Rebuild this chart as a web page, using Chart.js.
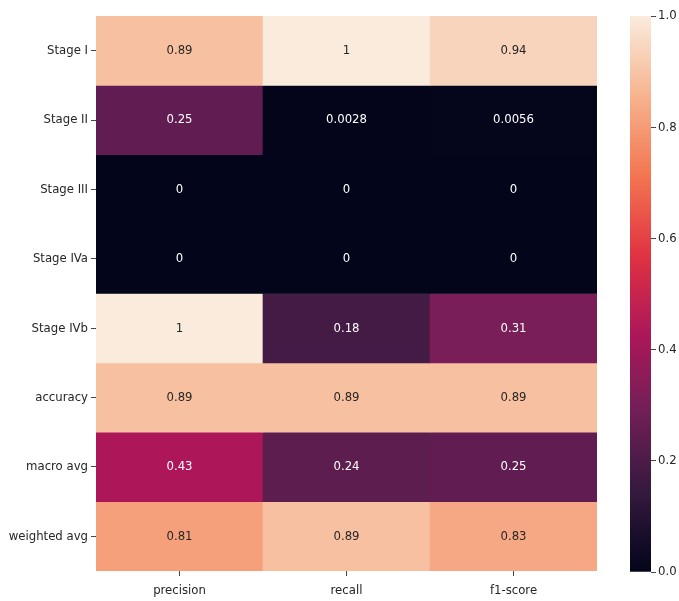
<!DOCTYPE html>
<html>
<head>
<meta charset="utf-8">
<script src="https://cdn.jsdelivr.net/npm/chart.js@4/dist/chart.umd.min.js"></script>
<style>
  html, body { margin: 0; padding: 0; background: #ffffff; }
  #wrap { position: relative; width: 679px; height: 601px; overflow: hidden; }
  #heat { position: absolute; left: 0; top: 0; }
  #cbar { position: absolute; left: 600px; top: 0; }
</style>
</head>
<body>
<div id="wrap">
  <canvas id="heat" width="679" height="601"></canvas>
  <canvas id="cbar" width="79" height="601"></canvas>
</div>
<script>
// Classification report metrics per class
const columns = ['precision', 'recall', 'f1-score'];
const rows = ['Stage I', 'Stage II', 'Stage III', 'Stage IVa', 'Stage IVb', 'accuracy', 'macro avg', 'weighted avg'];
const precision = [0.89, 0.25, 0, 0, 1, 0.89, 0.43, 0.81];
const recall = [1, 0.0028, 0, 0, 0.18, 0.89, 0.24, 0.89];
const f1Score = [0.94, 0.0056, 0, 0, 0.31, 0.89, 0.25, 0.83];
const colorbarTicks = [0, 0.2, 0.4, 0.6, 0.8, 1.0];

const valueColumns = [precision, recall, f1Score];

// "rocket" colormap anchor colours
const rocketStops = [
  [0.000, [3, 5, 26]],
  [0.143, [53, 25, 62]],
  [0.286, [112, 31, 87]],
  [0.429, [173, 23, 89]],
  [0.571, [225, 51, 66]],
  [0.714, [243, 118, 81]],
  [0.857, [246, 180, 143]],
  [1.000, [250, 235, 221]]
];

function rocketRGB(t) {
  t = Math.max(0, Math.min(1, t));
  for (let i = 1; i < rocketStops.length; i++) {
    const [p1, c1] = rocketStops[i];
    const [p0, c0] = rocketStops[i - 1];
    if (t <= p1) {
      const f = (t - p0) / (p1 - p0);
      return c0.map((c, k) => Math.round(c + (c1[k] - c) * f));
    }
  }
  return rocketStops[rocketStops.length - 1][1];
}
const rgbStr = (c) => `rgb(${c[0]},${c[1]},${c[2]})`;

function luminance(c) {
  const lin = c.map(v => {
    v /= 255;
    return v <= 0.03928 ? v / 12.92 : Math.pow((v + 0.055) / 1.055, 2.4);
  });
  return 0.2126 * lin[0] + 0.7152 * lin[1] + 0.0722 * lin[2];
}

const fmt = (v) => String(Number(v.toPrecision(2)));

const FONT = "'DejaVu Sans Condensed', 'DejaVu Sans', sans-serif";
const TEXT = '#262626';
Chart.defaults.font.family = FONT;
Chart.defaults.font.size = 12;
Chart.defaults.color = TEXT;

// one stacked dataset per row; each cell has unit height
const datasets = rows.map((name, r) => ({
  label: name,
  data: columns.map(() => 1),
  cellValues: valueColumns.map(col => col[r]),
  backgroundColor: valueColumns.map(col => rgbStr(rocketRGB(col[r]))),
  borderWidth: 0,
  barPercentage: 1,
  categoryPercentage: 1,
  stack: 'cells'
}));

const annotate = {
  id: 'annotate',
  afterDatasetsDraw(chart) {
    const ctx = chart.ctx;
    ctx.save();
    ctx.font = `13px ${FONT}`;
    ctx.textAlign = 'center';
    ctx.textBaseline = 'middle';
    chart.data.datasets.forEach((ds, di) => {
      const meta = chart.getDatasetMeta(di);
      meta.data.forEach((el, i) => {
        const v = ds.cellValues[i];
        const lum = luminance(rocketRGB(v));
        ctx.fillStyle = lum > 0.408 ? TEXT : '#ffffff';
        ctx.fillText(fmt(v), el.x, (el.y + el.base) / 2);
      });
    });
    ctx.restore();
  }
};

new Chart(document.getElementById('heat'), {
  type: 'bar',
  data: { labels: columns, datasets },
  plugins: [annotate],
  options: {
    responsive: false,
    animation: false,
    devicePixelRatio: 1,
    layout: { padding: { left: 0, right: 82, top: 16, bottom: 0 } },
    plugins: { legend: { display: false }, tooltip: { enabled: false } },
    scales: {
      x: {
        type: 'category',
        stacked: true,
        grid: { display: true, drawOnChartArea: false, offset: false, tickLength: 5, color: '#444', tickWidth: 1 },
        border: { display: false },
        ticks: { font: { size: 13 }, color: TEXT, padding: 7 },
        afterFit(s) { s.height = 30; }
      },
      y: {
        type: 'linear',
        stacked: true,
        reverse: true,
        min: 0,
        max: rows.length,
        grid: { display: true, drawOnChartArea: false, tickLength: 5, color: '#444', tickWidth: 1 },
        border: { display: false },
        afterBuildTicks(s) { s.ticks = rows.map((_, i) => ({ value: i + 0.5 })); },
        ticks: {
          autoSkip: false,
          font: { size: 13 },
          color: TEXT,
          padding: 3,
          callback: (v) => rows[Math.floor(v)]
        },
        afterFit(s) { s.width = 96; }
      }
    }
  }
});

// colour bar
new Chart(document.getElementById('cbar'), {
  type: 'bar',
  data: {
    labels: [''],
    datasets: [{
      data: [[0, 1]],
      borderWidth: 0,
      barPercentage: 1,
      categoryPercentage: 1,
      backgroundColor(ctx) {
        const area = ctx.chart.chartArea;
        if (!area) return null;
        const g = ctx.chart.ctx.createLinearGradient(0, area.bottom, 0, area.top);
        for (let i = 0; i <= 64; i++) {
          g.addColorStop(i / 64, rgbStr(rocketRGB(i / 64)));
        }
        return g;
      }
    }]
  },
  options: {
    responsive: false,
    animation: false,
    devicePixelRatio: 1,
    layout: { padding: { left: 30, right: 0, top: 16, bottom: 29 } },
    plugins: { legend: { display: false }, tooltip: { enabled: false } },
    scales: {
      x: { display: false },
      y: {
        type: 'linear',
        position: 'right',
        min: 0,
        max: 1,
        grid: { display: true, drawOnChartArea: false, tickLength: 5, color: '#444', tickWidth: 1 },
        border: { display: false },
        afterBuildTicks(s) { s.ticks = colorbarTicks.map(v => ({ value: v })); },
        ticks: { font: { size: 13 }, color: TEXT, padding: 2, callback: (v) => v.toFixed(1) },
        afterFit(s) { s.width = 28; }
      }
    }
  }
});
</script>
</body>
</html>
